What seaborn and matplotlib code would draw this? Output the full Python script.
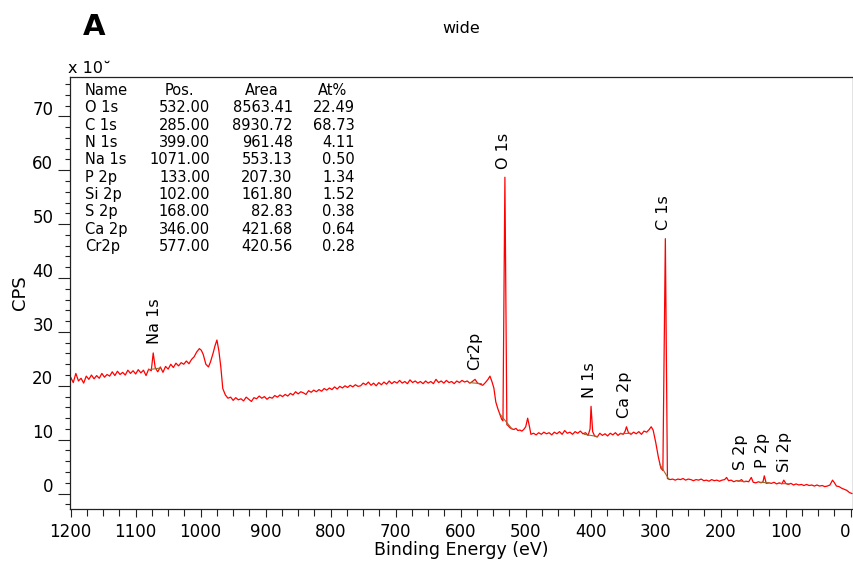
import matplotlib
matplotlib.use("Agg")
import matplotlib.pyplot as plt
import matplotlib.transforms as mtransforms
from matplotlib.ticker import MultipleLocator
import pandas as pd
import seaborn as sns

# survey spectrum (binding energy in eV, CPS in units of 10^2)
binding_energy = [
    1200, 1196, 1192, 1188, 1184, 1180, 1176, 1172, 1168, 1164, 1160, 1156, 1152, 1148, 1144, 1140,
    1136, 1132, 1128, 1124, 1120, 1116, 1112, 1108, 1104, 1100, 1096, 1092, 1088, 1084, 1080, 1076,
    1073, 1070, 1066, 1062, 1058, 1054, 1050, 1046, 1042, 1038, 1034, 1030, 1026, 1022, 1018, 1014,
    1010, 1006, 1002, 999, 996, 992, 988, 985, 981, 978, 975, 972, 969, 966, 962, 958,
    954, 950, 946, 942, 938, 934, 930, 926, 922, 918, 914, 910, 906, 902, 898, 894,
    890, 886, 882, 878, 874, 870, 866, 862, 858, 854, 850, 846, 842, 838, 834, 830,
    826, 822, 818, 814, 810, 806, 802, 798, 794, 790, 786, 782, 778, 774, 770, 766,
    762, 758, 754, 750, 746, 742, 738, 734, 730, 726, 722, 718, 714, 710, 706, 702,
    698, 694, 690, 686, 682, 678, 674, 670, 666, 662, 658, 654, 650, 646, 642, 638,
    634, 630, 626, 622, 618, 614, 610, 606, 602, 598, 594, 590, 586, 582, 578, 574,
    570, 566, 562, 558, 555, 552, 549, 546, 543, 540, 537, 535, 532, 529, 527, 524,
    521, 518, 515, 512, 509, 506, 503, 500, 497, 494, 492, 488, 484, 480, 476, 472,
    468, 464, 460, 456, 452, 448, 444, 440, 436, 432, 428, 424, 420, 416, 412, 408,
    404, 401, 399.5, 397, 394, 390, 386, 382, 378, 374, 370, 366, 362, 358, 354, 350,
    347, 345, 342, 338, 334, 330, 326, 322, 318, 314, 310, 307, 304, 300, 296, 292,
    289, 285.2, 282, 278, 274, 270, 266, 262, 258, 254, 250, 246, 242, 238, 234, 230,
    226, 222, 218, 214, 210, 206, 202, 198, 194, 191, 188, 184, 180, 176, 172, 168,
    165, 161, 157, 153, 150, 146, 142, 138, 135, 133, 130, 126, 122, 118, 114, 110,
    106, 103, 100, 96, 92, 88, 84, 80, 76, 72, 68, 64, 60, 56, 52, 48,
    44, 40, 36, 32, 28, 25, 22, 18, 14, 10, 6, 2, -2,
]
cps = [
    21.6, 20.6, 22.3, 20.9, 21.4, 20.5, 21.8, 21.2, 22.0, 21.3, 21.9, 21.4, 22.3, 21.6, 22.1, 21.8,
    22.6, 21.9, 22.7, 22.1, 22.5, 22.0, 22.9, 22.3, 22.8, 22.2, 23.0, 22.4, 22.9, 21.9, 23.1, 22.8,
    26.1, 23.4, 22.6, 23.5, 22.5, 23.6, 23.1, 24.0, 23.4, 24.2, 23.7, 24.3, 24.0, 24.6, 24.1, 24.9,
    25.4, 26.3, 26.9, 26.6, 25.8, 24.0, 23.5, 24.4, 26.0, 27.4, 28.5, 26.5, 23.5, 19.5, 18.3, 17.7,
    17.9, 17.3, 17.8, 17.4, 17.6, 17.2, 17.9, 17.5, 17.1, 17.8, 17.6, 18.1, 17.7, 18.0, 17.5, 17.9,
    17.7, 18.2, 17.9, 18.3, 18.0, 18.4, 18.1, 18.6, 18.3, 18.9, 18.5, 18.9, 18.7, 18.4, 19.1, 18.8,
    19.2, 18.9, 19.3, 19.0, 19.5, 19.2, 19.6, 19.3, 19.8, 19.4, 19.9, 19.6, 20.0, 19.7, 20.1, 19.8,
    20.2, 19.9, 20.0, 20.5, 20.2, 20.7, 20.1, 20.5, 20.0, 20.6, 20.2, 20.7, 20.3, 20.9, 20.4, 20.8,
    20.5, 21.0, 20.5, 20.8, 20.4, 21.1, 20.6, 20.9, 20.5, 20.8, 20.4, 20.9, 20.5, 20.8, 20.4, 21.2,
    20.6, 20.9, 20.5, 21.0, 20.6, 20.8, 20.4, 20.9, 20.6, 21.0, 20.7, 20.9, 20.5, 20.8, 21.2, 20.5,
    20.3, 20.1, 20.6, 21.2, 21.8, 20.8, 19.6, 17.0, 15.8, 14.8, 13.8, 13.5, 58.7, 12.8, 12.6, 12.2,
    12.0, 11.9, 12.1, 11.7, 11.8, 11.6, 11.9, 12.4, 14.0, 12.3, 11.0, 11.2, 10.9, 11.3, 11.0, 11.4,
    11.1, 11.3, 10.9, 11.4, 11.1, 11.5, 11.0, 11.7, 11.2, 11.4, 11.0, 11.5, 11.2, 11.6, 11.1, 11.3,
    10.8, 12.0, 16.2, 11.5, 10.7, 10.5, 11.2, 10.8, 11.1, 10.7, 11.2, 10.9, 11.3, 10.8, 11.2, 11.0,
    11.6, 12.4, 11.3, 11.0, 11.4, 11.1, 11.5, 11.0, 11.6, 11.4, 11.9, 12.4, 11.8, 9.5, 6.8, 4.7,
    4.3, 47.3, 2.8, 2.6, 2.7, 2.5, 2.7, 2.6, 2.8, 2.5, 2.7, 2.6, 2.4, 2.6, 2.5, 2.7,
    2.4, 2.5, 2.3, 2.6, 2.4, 2.5, 2.3, 2.5, 2.6, 3.0, 2.4, 2.5, 2.2, 2.4, 2.3, 2.6,
    2.2, 2.3, 2.2, 3.0, 2.1, 2.0, 2.2, 2.0, 2.2, 3.3, 1.9, 2.0, 1.9, 2.1, 1.8, 2.0,
    1.8, 2.5, 1.9, 1.7, 1.9, 1.6, 1.8, 1.6, 1.7, 1.5, 1.7, 1.5, 1.6, 1.4, 1.6, 1.4,
    1.5, 1.3, 1.4, 1.6, 2.5, 2.0, 1.4, 1.3, 1.0, 0.8, 0.6, 0.2, 0.0,
]

# peak backgrounds (start/end of each fitted region)
bg_names = ["Na 1s", "Cr2p", "O 1s", "N 1s", "Ca 2p", "C 1s", "S 2p", "P 2p", "Si 2p"]
bg_start_be = [1080, 587, 540, 410, 355, 294, 175, 140, 110]
bg_end_be = [1062, 568, 521, 390, 338, 280, 162, 126, 95]
bg_start_cps = [23.0, 20.6, 14.8, 11.0, 11.1, 5.5, 2.4, 2.1, 1.9]
bg_end_cps = [23.3, 20.4, 12.0, 10.6, 11.2, 2.7, 2.2, 2.0, 1.8]

# peak labels
label_names = ["Na 1s", "O 1s", "C 1s", "Cr2p", "N 1s", "Ca 2p", "S 2p", "P 2p", "Si 2p"]
label_be = [1071, 534.5, 287.5, 578, 401.5, 347.5, 169, 135.7, 102.6]
label_cps = [27.7, 60.3, 48.9, 22.9, 17.8, 14.1, 4.4, 4.8, 4.0]

# quantification table
tbl_names = ["O 1s", "C 1s", "N 1s", "Na 1s", "P 2p", "Si 2p", "S 2p", "Ca 2p", "Cr2p"]
tbl_pos = ["532.00", "285.00", "399.00", "1071.00", "133.00", "102.00", "168.00", "346.00", "577.00"]
tbl_area = ["8563.41", "8930.72", "961.48", "553.13", "207.30", "161.80", "82.83", "421.68", "420.56"]
tbl_at = ["22.49", "68.73", "4.11", "0.50", "1.34", "1.52", "0.38", "0.64", "0.28"]

sns.set_theme(style="ticks")
plt.rcParams["font.family"] = ["DejaVu Sans"]
plt.rcParams["text.color"] = "black"
plt.rcParams["axes.labelcolor"] = "black"
plt.rcParams["xtick.color"] = "black"
plt.rcParams["ytick.color"] = "black"

W, H = 854, 561
fig = plt.figure(figsize=(W / 100, H / 100), dpi=100)
ax = fig.add_axes([70 / W, 1 - 508.7 / H, 782.7 / W, 431.7 / H])

df = pd.DataFrame({"be": binding_energy, "cps": cps})
sns.lineplot(data=df, x="be", y="cps", ax=ax, color="#ff0000", lw=0.9,
             sort=False, estimator=None)

for i in range(len(bg_names)):
    seg = pd.DataFrame({"be": [bg_start_be[i], bg_end_be[i]],
                        "cps": [bg_start_cps[i], bg_end_cps[i]]})
    sns.lineplot(data=seg, x="be", y="cps", ax=ax, color="#9a6a2a", lw=0.8,
                 sort=False, estimator=None)

for name, x, y in zip(label_names, label_be, label_cps):
    ax.text(x, y, name, rotation=90, ha="center", va="bottom", fontsize=11.5, color="black")

ax.set_xlim(1201, -3)
ax.set_ylim(-2.8, 77.3)
ax.set_xticks(range(0, 1201, 100))
ax.xaxis.set_minor_locator(MultipleLocator(25))
ax.set_yticks(range(0, 71, 10))
ax.yaxis.set_minor_locator(MultipleLocator(2))
ax.tick_params(axis="x", which="major", length=6, width=0.8, labelsize=12, pad=4, color="#222222")
ax.tick_params(axis="x", which="minor", length=5, width=0.8, color="#222222")
ax.tick_params(axis="y", which="major", length=8.5, width=0.8, labelsize=12, pad=3.5, color="#222222")
ax.tick_params(axis="y", which="minor", length=3.6, width=0.8, color="#222222")

# y labels sit just above their ticks, as in the original software
offset = mtransforms.ScaledTranslation(0, 6 / 72, fig.dpi_scale_trans)
for tick in ax.yaxis.get_major_ticks():
    tick.label1.set_transform(tick.label1.get_transform() + offset)

# keep the "0" at the right edge inside the figure
xticks = ax.xaxis.get_major_ticks()
shift = mtransforms.ScaledTranslation(-4 / 72, 0, fig.dpi_scale_trans)
xticks[0].label1.set_transform(xticks[0].label1.get_transform() + shift)

for sp in ax.spines.values():
    sp.set_visible(True)
    sp.set_color("#222222")
    sp.set_linewidth(0.9)

ax.set_xlabel("Binding Energy (eV)", fontsize=12.5, labelpad=0)
ax.set_ylabel("CPS", fontsize=13, labelpad=2)

# titles
fig.text(83 / W, 1 - 35 / H, "A", fontsize=21, fontweight="bold", va="baseline", ha="left")
fig.text(461.7 / W, 1 - 33.3 / H, "wide", fontsize=11.5, va="baseline", ha="center")
fig.text(68 / W, 1 - 73.3 / H, "x 10\u02d8", fontsize=11.5, va="baseline", ha="left")

# table inside the plot
row0 = 90.7
step = 17.3
fig.text(85 / W, 1 - row0 / H, "Name", fontsize=10.5, va="center", ha="left")
fig.text(179 / W, 1 - row0 / H, "Pos.", fontsize=10.5, va="center", ha="center")
fig.text(262 / W, 1 - row0 / H, "Area", fontsize=10.5, va="center", ha="center")
fig.text(333 / W, 1 - row0 / H, "At%", fontsize=10.5, va="center", ha="center")
for i in range(len(tbl_names)):
    y = 1 - (row0 + step * (i + 1)) / H
    fig.text(85 / W, y, tbl_names[i], fontsize=10.5, va="center", ha="left")
    fig.text(210 / W, y, tbl_pos[i], fontsize=10.5, va="center", ha="right")
    fig.text(292.7 / W, y, tbl_area[i], fontsize=10.5, va="center", ha="right")
    fig.text(355 / W, y, tbl_at[i], fontsize=10.5, va="center", ha="right")

fig.savefig("out.png", dpi=100)
